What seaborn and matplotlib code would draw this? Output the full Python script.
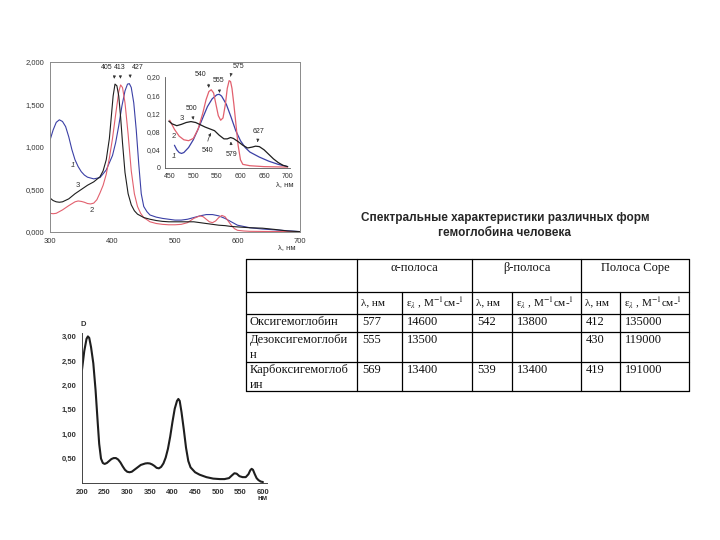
import matplotlib
matplotlib.use("Agg")
import matplotlib.pyplot as plt
import pandas as pd
import seaborn as sns

sns.set_style("white")
plt.rcParams["font.family"] = ["Liberation Sans", "DejaVu Sans"]
plt.rcParams["mathtext.fontset"] = "stix"

# ---------- top chart: three hemoglobin forms, 300-700 nm ----------
main_wl_1 = [300, 305, 310, 315, 320, 325, 330, 335, 340, 345, 350, 355, 360, 370, 380, 390, 400, 405, 410, 415,
             420, 424, 427, 430, 434, 438, 442, 446, 450, 455, 460, 470, 480, 490, 500, 510, 520, 530, 540, 550,
             560, 570, 580, 590, 600, 620, 640, 660, 680, 700]
main_abs_1 = [1.08, 1.2, 1.29, 1.32, 1.3, 1.24, 1.12, 0.97, 0.85, 0.77, 0.71, 0.67, 0.645, 0.625, 0.64, 0.73, 0.9, 1.05, 1.25, 1.48,
              1.66, 1.74, 1.745, 1.7, 1.52, 1.2, 0.8, 0.45, 0.3, 0.24, 0.2, 0.175, 0.16, 0.15, 0.14, 0.14, 0.15, 0.17, 0.19, 0.205,
              0.205, 0.19, 0.16, 0.12, 0.08, 0.05, 0.035, 0.025, 0.015, 0.005]

main_wl_2 = [300, 305, 310, 320, 330, 340, 345, 350, 355, 360, 365, 370, 375, 380, 385, 390, 395, 400, 405, 410,
             413, 416, 420, 425, 430, 435, 440, 445, 450, 460, 470, 480, 490, 500, 510, 520, 530, 540, 545, 550,
             555, 560, 565, 570, 575, 580, 585, 590, 595, 600, 610, 620, 650, 700]
main_abs_2 = [0.22, 0.215, 0.22, 0.26, 0.31, 0.355, 0.365, 0.36, 0.35, 0.335, 0.33, 0.34, 0.38, 0.46, 0.55, 0.68, 0.87, 1.1, 1.38, 1.65,
              1.73, 1.7, 1.52, 1.15, 0.72, 0.45, 0.3, 0.22, 0.17, 0.12, 0.1, 0.09, 0.085, 0.085, 0.09, 0.11, 0.16, 0.19, 0.18, 0.15,
              0.12, 0.11, 0.13, 0.17, 0.195, 0.18, 0.13, 0.08, 0.04, 0.02, 0.012, 0.008, 0.006, 0.004]

main_wl_3 = [300, 305, 310, 315, 320, 330, 340, 350, 360, 370, 380, 385, 390, 395, 398, 401, 404, 407, 410, 413,
             416, 420, 425, 430, 435, 440, 450, 460, 470, 480, 490, 500, 510, 520, 530, 540, 550, 560, 570, 580,
             590, 600, 620, 640, 660, 680, 700]
main_abs_3 = [0.4, 0.37, 0.355, 0.35, 0.355, 0.39, 0.45, 0.5, 0.55, 0.59, 0.65, 0.72, 0.85, 1.1, 1.35, 1.6, 1.74, 1.72, 1.6, 1.35,
              1.05, 0.7, 0.45, 0.32, 0.25, 0.21, 0.17, 0.15, 0.135, 0.125, 0.12, 0.12, 0.12, 0.12, 0.12, 0.11, 0.1, 0.09, 0.08, 0.075,
              0.065, 0.06, 0.05, 0.045, 0.03, 0.012, 0.004]

main_xticks = [300, 400, 500, 600, 700]
main_yticks = [0, 0.5, 1.0, 1.5, 2.0]
main_ylabels = ["0,000", "0,500", "1,000", "1,500", "2,000"]
main_peaks = ["405", "413", "427"]

# ---------- inset: visible region 450-700 nm ----------
ins_wl_1 = [460, 465, 470, 475, 480, 490, 500, 510, 520, 530, 540, 550, 555, 560, 570, 580, 590, 600, 610, 620,
            640, 660, 680, 700]
ins_abs_1 = [0.05, 0.04, 0.034, 0.032, 0.034, 0.045, 0.062, 0.085, 0.11, 0.135, 0.152, 0.161, 0.162, 0.158, 0.14, 0.112, 0.082, 0.06, 0.045, 0.035,
             0.024, 0.015, 0.008, 0.003]

ins_wl_2 = [450, 460, 470, 480, 490, 500, 510, 520, 527, 533, 538, 543, 548, 553, 558, 563, 568, 572, 576, 579,
            582, 586, 590, 595, 600, 605, 620, 650, 700]
ins_abs_2 = [0.105, 0.085, 0.07, 0.062, 0.06, 0.065, 0.085, 0.12, 0.15, 0.168, 0.172, 0.165, 0.14, 0.115, 0.105, 0.11, 0.14, 0.175, 0.192, 0.19,
             0.175, 0.14, 0.1, 0.05, 0.018, 0.008, 0.005, 0.003, 0.002]

ins_wl_3 = [448, 455, 465, 475, 485, 495, 505, 515, 525, 535, 545, 555, 565, 572, 579, 585, 595, 605, 615, 625,
            632, 640, 650, 660, 670, 680, 690, 700]
ins_abs_3 = [0.103, 0.097, 0.093, 0.096, 0.1, 0.102, 0.1, 0.095, 0.09, 0.086, 0.082, 0.072, 0.064, 0.064, 0.067, 0.065, 0.058, 0.05, 0.044, 0.046,
             0.048, 0.047, 0.04, 0.03, 0.02, 0.012, 0.006, 0.003]

ins_xticks = [450, 500, 550, 600, 650, 700]
ins_yticks = [0, 0.04, 0.08, 0.12, 0.16, 0.20]
ins_ylabels = ["0", "0,04", "0,08", "0,12", "0,16", "0,20"]

# ---------- bottom chart: full spectrum 200-600 nm ----------
full_wl = [200, 205, 210, 213, 216, 220, 225, 230, 235, 238, 242, 246, 250, 255, 260, 265, 270, 275, 280, 285,
           290, 295, 300, 305, 310, 320, 330, 340, 345, 350, 355, 360, 365, 370, 375, 380, 385, 390, 395, 400,
           405, 410, 413, 416, 420, 425, 430, 435, 440, 450, 460, 475, 490, 505, 515, 525, 532, 537, 542, 548,
           555, 562, 568, 572, 575, 578, 582, 586, 590, 595, 600]
full_abs = [2.32, 2.7, 2.95, 3.0, 2.97, 2.78, 2.45, 1.9, 1.2, 0.8, 0.5, 0.41, 0.39, 0.41, 0.45, 0.49, 0.51, 0.51, 0.48, 0.42,
            0.34, 0.27, 0.23, 0.22, 0.23, 0.3, 0.37, 0.4, 0.405, 0.4, 0.38, 0.35, 0.31, 0.3, 0.33, 0.4, 0.52, 0.7, 0.95, 1.25,
            1.52, 1.68, 1.72, 1.68, 1.45, 1.1, 0.72, 0.45, 0.32, 0.22, 0.17, 0.12, 0.09, 0.08, 0.08, 0.1, 0.16, 0.2, 0.19, 0.14,
            0.12, 0.12, 0.18, 0.26, 0.29, 0.27, 0.18, 0.1, 0.06, 0.03, 0.02]
full_xticks = [200, 250, 300, 350, 400, 450, 500, 550, 600]
full_yticks = [0.5, 1.0, 1.5, 2.0, 2.5, 3.0]
full_ylabels = ["0,50", "1,00", "1,50", "2,00", "2,50", "3,00"]

# ---------- table ----------
title_lines = ["Спектральные характеристики различных форм", "гемоглобина человека"]
band_names = ["α-полоса", "β-полоса", "Полоса Соре"]
sub_headers = ["λ, нм", "ε$_{λ}$ , М$^{-1}$см-$^{1}$"] * 3
row_names = ["Оксигемоглобин", "Дезоксигемоглоби\nн", "Карбоксигемоглоб\nин"]
table_values = [["577", "14600", "542", "13800", "412", "135000"],
                ["555", "13500", "", "", "430", "119000"],
                ["569", "13400", "539", "13400", "419", "191000"]]

BLUE, RED, BLACK = "#3b40a6", "#e2606e", "#1e1e1e"
W, H = 720, 540


def rect(left, top, right, bottom):
    return [left / W, 1 - bottom / H, (right - left) / W, (bottom - top) / H]


fig = plt.figure(figsize=(7.2, 5.4), dpi=100)

# top chart
ax = fig.add_axes(rect(50, 62, 300, 232))
for wl, ab, c in [(main_wl_1, main_abs_1, BLUE), (main_wl_2, main_abs_2, RED), (main_wl_3, main_abs_3, BLACK)]:
    sns.lineplot(x=wl, y=ab, ax=ax, color=c, lw=0.8, estimator=None, sort=False)
ax.set_xlim(300, 700)
ax.set_ylim(0, 2.0)
ax.set_xticks(main_xticks)
ax.set_xticklabels([str(t) for t in main_xticks])
ax.set_yticks(main_yticks)
ax.set_yticklabels(main_ylabels)
ax.tick_params(labelsize=5.5, colors="#333333", length=2, width=0.5, pad=2)
for s in ax.spines.values():
    s.set_color("#8a8a8a")
    s.set_linewidth(0.7)
arrow = dict(arrowstyle="-|>", lw=0.5, color="#333333", mutation_scale=4)
ax.annotate(main_peaks[0], xy=(402, 1.77), xytext=(391, 1.94), fontsize=5, ha="center", va="center",
            arrowprops=dict(arrow, connectionstyle="arc3,rad=-0.4"))
ax.annotate(main_peaks[1], xy=(413, 1.77), xytext=(412, 1.94), fontsize=5, ha="center", va="center",
            arrowprops=arrow)
ax.annotate(main_peaks[2], xy=(429, 1.78), xytext=(440, 1.94), fontsize=5, ha="center", va="center",
            arrowprops=dict(arrow, connectionstyle="arc3,rad=0.4"))
ax.text(337, 0.78, "1", fontsize=5.5, color="#333333", ha="center", va="center", style="italic")
ax.text(345, 0.55, "3", fontsize=5.5, color="#333333", ha="center", va="center")
ax.text(366, 0.25, "2", fontsize=5.5, color="#333333", ha="center", va="center")
fig.text(287 / W, 1 - 248 / H, "λ, нм", fontsize=5.5, ha="center", va="center", color="#333333")

# inset
ai = fig.add_axes(rect(165, 77, 290, 168))
for wl, ab, c in [(ins_wl_1, ins_abs_1, BLUE), (ins_wl_2, ins_abs_2, RED), (ins_wl_3, ins_abs_3, BLACK)]:
    sns.lineplot(x=wl, y=ab, ax=ai, color=c, lw=0.9, estimator=None, sort=False)
ai.set_xlim(440, 705)
ai.set_ylim(0, 0.2)
ai.set_xticks(ins_xticks)
ai.set_xticklabels([str(t) for t in ins_xticks])
ai.set_yticks(ins_yticks)
ai.set_yticklabels(ins_ylabels)
ai.patch.set_alpha(0)
ai.tick_params(labelsize=5, colors="#333333", length=2, width=0.5, pad=1.5)
for k in ["top", "right"]:
    ai.spines[k].set_visible(False)
for k in ["left", "bottom"]:
    ai.spines[k].set_color("#555555")
    ai.spines[k].set_linewidth(0.6)
ai.annotate("540", xy=(533, 0.17), xytext=(515, 0.205), fontsize=5, ha="center", va="center",
            arrowprops=dict(arrow, connectionstyle="arc3,rad=-0.3"), annotation_clip=False)
ai.annotate("555", xy=(556, 0.165), xytext=(553, 0.192), fontsize=5, ha="center", va="center",
            arrowprops=arrow, annotation_clip=False)
ai.annotate("575", xy=(578, 0.195), xytext=(596, 0.222), fontsize=5, ha="center", va="center",
            arrowprops=dict(arrow, connectionstyle="arc3,rad=0.3"), annotation_clip=False)
ai.annotate("500", xy=(500, 0.106), xytext=(497, 0.131), fontsize=5, ha="center", va="center",
            arrowprops=arrow)
ai.annotate("540", xy=(541, 0.082), xytext=(530, 0.038), fontsize=5, ha="center", va="center",
            arrowprops=dict(arrow, connectionstyle="arc3,rad=-0.2"))
ai.annotate("579", xy=(579, 0.064), xytext=(582, 0.03), fontsize=5, ha="center", va="center",
            arrowprops=arrow)
ai.annotate("627", xy=(636, 0.051), xytext=(638, 0.08), fontsize=5, ha="center", va="center",
            arrowprops=arrow)
ai.text(476, 0.108, "3", fontsize=5.5, color="#333333", ha="center", va="center")
ai.text(458, 0.07, "2", fontsize=5.5, color="#333333", ha="center", va="center")
ai.text(458, 0.025, "1", fontsize=5.5, color="#333333", ha="center", va="center", style="italic")
fig.text(285 / W, 1 - 185 / H, "λ, нм", fontsize=5.5, ha="center", va="center", color="#333333")

# bottom chart
ab_ = fig.add_axes(rect(82, 333, 267, 483))
sns.lineplot(x=full_wl, y=full_abs, ax=ab_, color=BLACK, lw=1.5, estimator=None, sort=False)
ab_.set_xlim(200, 609)
ab_.set_ylim(0, 3.07)
ab_.set_xticks(full_xticks)
ab_.set_xticklabels([str(t) for t in full_xticks], fontweight="bold")
ab_.set_yticks(full_yticks)
ab_.set_yticklabels(full_ylabels, fontweight="bold")
ab_.tick_params(labelsize=5.5, colors="#333333", length=2, width=0.6, pad=2)
for k in ["top", "right"]:
    ab_.spines[k].set_visible(False)
for k in ["left", "bottom"]:
    ab_.spines[k].set_color("#444444")
    ab_.spines[k].set_linewidth(0.7)
fig.text(83 / W, 1 - 325 / H, "D", fontsize=5.5, fontweight="bold", ha="center", va="center", color="#333333")
fig.text(263 / W, 1 - 498 / H, "нм", fontsize=5.5, fontweight="bold", ha="center", va="center", color="#333333")

# title
fig.text(505 / W, 1 - 218 / H, title_lines[0], fontsize=8.5, fontweight="bold", ha="center", va="center")
fig.text(505 / W, 1 - 233 / H, title_lines[1], fontsize=8.5, fontweight="bold", ha="center", va="center")

# table drawn on a pixel-coordinate axes
at = fig.add_axes(rect(0, 0, W, H))
at.set_xlim(0, W)
at.set_ylim(H, 0)
at.axis("off")
col_x = [246, 357, 402, 472, 512, 581, 620, 689]
row_y = [259, 292, 314, 332, 362, 391]
lc = dict(color="black", lw=0.9)
for y in row_y:
    at.plot([col_x[0], col_x[-1]], [y, y], **lc)
for i, x in enumerate(col_x):
    if i in (2, 4, 6):
        at.plot([x, x], [row_y[1], row_y[-1]], **lc)
    else:
        at.plot([x, x], [row_y[0], row_y[-1]], **lc)
tf = dict(family=["Liberation Serif", "DejaVu Serif"], fontsize=9, color="#111111")
for j, name in enumerate(band_names):
    cx = (col_x[1 + 2 * j] + col_x[3 + 2 * j]) / 2
    at.text(cx, 268, name, ha="center", va="center", **tf)
for j, sh in enumerate(sub_headers):
    at.text(col_x[1 + j] + 4, 303, sh, ha="left", va="center", **dict(tf, fontsize=8))
row_top = [316, 334, 364]
for r, name in enumerate(row_names):
    at.text(col_x[0] + 4, row_top[r], name, ha="left", va="top", linespacing=1.35, **tf)
    for c, v in enumerate(table_values[r]):
        at.text(col_x[1 + c] + 5, row_top[r], v, ha="left", va="top", **tf)

fig.savefig("out.png", dpi=100)
